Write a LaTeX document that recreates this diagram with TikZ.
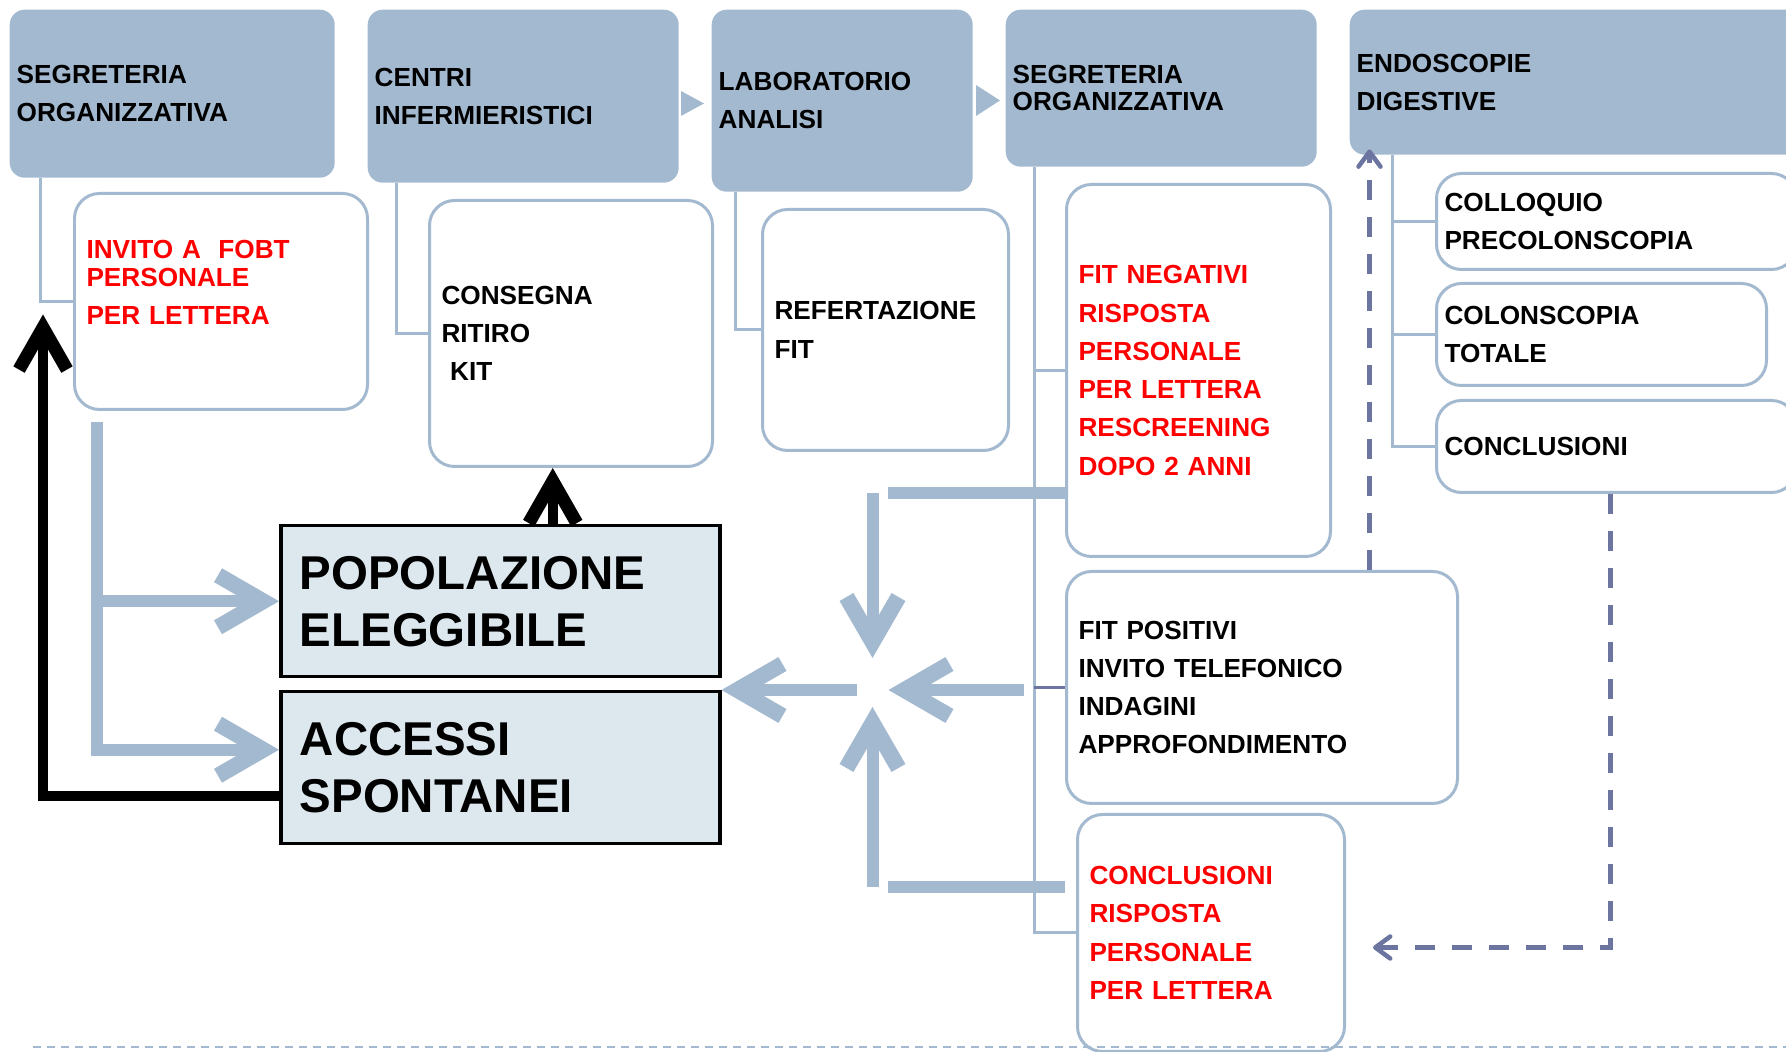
\documentclass[tikz,border=0pt]{standalone}
\usepackage{fontspec}
\setmainfont{Liberation Sans}
\usetikzlibrary{arrows.meta}
\definecolor{hblue}{RGB}{163,185,208}
\definecolor{popfill}{RGB}{221,232,238}
\definecolor{dslate}{RGB}{108,116,160}

\begin{document}
\begin{tikzpicture}[hdr/.style={fill=hblue,rounded corners=0.15cm,anchor=north west,align=left,inner xsep=0.07cm,font=\fontsize{7.45}{10.9}\selectfont\bfseries},
  task/.style={draw=hblue,line width=0.03cm,fill=white,rounded corners=0.25cm,anchor=north west,align=left,inner xsep=0.12cm,font=\fontsize{7.45}{10.9}\selectfont\bfseries},
  bigbox/.style={draw=black,line width=0.035cm,fill=popfill,anchor=north west,align=left,inner xsep=0.19cm,font=\fontsize{13.5}{16.2}\selectfont\bfseries},
  link/.style={draw=hblue,line width=0.03cm},
  flow/.style={draw=hblue,line width=0.12cm,-{Straight Barb[sharp,line width=0.16cm,length=0.45cm,width=0.52cm]}},
  flowbar/.style={draw=hblue,line width=0.12cm},
  blk/.style={draw=black,line width=0.1cm,-{Straight Barb[sharp,line width=0.13cm,length=0.42cm,width=0.48cm]}},
  dashflow/.style={draw=dslate,line width=0.045cm,dash pattern=on 0.2cm off 0.17cm,-{Straight Barb[round,length=0.15cm,width=0.22cm]}}]
  \useasboundingbox (0,0) rectangle (17.86,-10.52);

  \node[hdr,text width=3.11cm,minimum height=1.68cm] (seg1) at (0.09,-0.09) {SEGRETERIA\\ORGANIZZATIVA};
  \node[hdr,text width=2.97cm,minimum height=1.73cm] (cen) at (3.67,-0.09) {CENTRI\\INFERMIERISTICI};
  \node[hdr,text width=2.47cm,minimum height=1.82cm] (lab) at (7.11,-0.09) {LABORATORIO\\ANALISI};
  \node[hdr,text width=2.97cm,minimum height=1.57cm] (seg2) at (10.05,-0.09) {SEGRETERIA\\[-3.1pt]ORGANIZZATIVA};
  \node[hdr,text width=4.46cm,minimum height=1.45cm] (endo) at (13.49,-0.09) {ENDOSCOPIE\\DIGESTIVE};

  \fill[hblue] (6.81,-0.91) -- (7.04,-1.035) -- (6.81,-1.16) -- cycle;
  \fill[hblue] (9.76,-0.85) -- (10.00,-1.005) -- (9.76,-1.16) -- cycle;

  \node[task,text=red,text width=2.69cm,minimum height=2.16cm] (invito) at (0.73,-1.92) {INVITO A~~FOBT\\[-3pt]PERSONALE\\PER LETTERA\\\mbox{}};
  \node[task,text width=2.59cm,minimum height=2.66cm] (kit) at (4.28,-1.99) {CONSEGNA\\RITIRO\\~KIT};
  \node[task,text width=2.22cm,minimum height=2.41cm] (ref) at (7.61,-2.08) {REFERTAZIONE\\FIT};
  \node[task,text=red,text width=2.40cm,minimum height=3.72cm] (neg) at (10.65,-1.83) {FIT NEGATIVI\\RISPOSTA\\PERSONALE\\PER LETTERA\\RESCREENING\\DOPO 2 ANNI};
  \node[task,text width=3.67cm,minimum height=2.32cm] (posi) at (10.65,-5.70) {FIT POSITIVI\\INVITO TELEFONICO\\INDAGINI\\APPROFONDIMENTO};
  \node[task,text=red,text width=2.43cm,minimum height=2.37cm] (concl) at (10.76,-8.13) {CONCLUSIONI\\RISPOSTA\\PERSONALE\\PER LETTERA};
  \node[task,inner xsep=0.08cm,text width=3.44cm,minimum height=0.96cm] (collo) at (14.35,-1.72) {COLLOQUIO\\PRECOLONSCOPIA};
  \node[task,inner xsep=0.08cm,text width=3.14cm,minimum height=1.02cm] (colon) at (14.35,-2.82) {COLONSCOPIA\\TOTALE};
  \node[task,inner xsep=0.08cm,text width=3.44cm,minimum height=0.92cm] (endc) at (14.35,-3.99) {CONCLUSIONI};

  \node[bigbox,text width=4.01cm,minimum height=1.51cm] (popol) at (2.79,-5.24) {POPOLAZIONE\\ELEGGIBILE};
  \node[bigbox,text width=4.01cm,minimum height=1.52cm] (acc) at (2.79,-6.90) {ACCESSI\\SPONTANEI};

  \coordinate (t1) at ([xshift=-0.32cm]invito.west);
  \coordinate (t2) at ([xshift=-0.32cm]kit.west);
  \coordinate (t3) at ([xshift=-0.26cm]ref.west);
  \coordinate (t4) at ([xshift=-0.31cm]neg.west);
  \coordinate (t5) at ([xshift=-0.43cm]collo.west);
  \draw[link] (t1 |- seg1.south) -- (t1) -- (invito.west);
  \draw[link] (t2 |- cen.south) -- (t2) -- (kit.west);
  \draw[link] (t3 |- lab.south) -- (t3) -- (ref.west);
  \draw[link] (t4 |- seg2.south) |- (concl.west);
  \draw[link] (t4) -- (neg.west);
  \draw[link,draw=dslate] (t4 |- posi.west) -- (posi.west);
  \draw[link] (t5 |- endo.south) |- (endc.west);
  \draw[link] (t5) -- (collo.west);
  \draw[link] (t5 |- colon.west) -- (colon.west);

  \coordinate (fork) at ([xshift=0.24cm,yshift=-0.11cm]invito.south west);
  \draw[flow] (fork) |- ([yshift=0.18cm]acc.west);
  \draw[flow] (fork |- popol.west) -- (popol.west);

  \coordinate (hub) at ([xshift=1.51cm]acc.north east);
  \coordinate (barN) at ([xshift=0.15cm,yshift=1.97cm]hub);
  \coordinate (barS) at ([xshift=0.15cm,yshift=-1.97cm]hub);
  \draw[flowbar] (barN) -- (barN -| neg.west);
  \draw[flowbar] (barS) -- (barS -| neg.west);
  \draw[flow] (hub |- barN) -- ([yshift=0.32cm]hub);
  \draw[flow] (hub |- barS) -- ([yshift=-0.17cm]hub);
  \draw[flow] ([xshift=1.51cm]hub) -- ([xshift=0.16cm]hub);
  \draw[flow] ([xshift=-0.16cm]hub) -- (acc.north east);

  \coordinate (ret) at ([xshift=-0.30cm,yshift=-0.13cm]invito.west);
  \coordinate (up) at ([xshift=0.525cm]popol.north);
  \draw[blk] ([yshift=-0.28cm]acc.west) -| (ret);
  \draw[blk] (up) -- (up |- kit.south);

  \coordinate (d1) at ([xshift=1.075cm]posi.north);
  \coordinate (d2) at ([xshift=-0.06cm]endc.south);
  \coordinate (d2end) at ([xshift=0.27cm,yshift=-0.145cm]concl.east);
  \draw[dashflow,shorten >=-0.06cm] (d1) -- (d1 |- endo.south);
  \draw[dashflow] (d2) |- (d2end);

  \draw[hblue,line width=0.025cm,dash pattern=on 0.08cm off 0.06cm] (0.33,-10.47) -- (17.86,-10.47);
\end{tikzpicture}
\end{document}
